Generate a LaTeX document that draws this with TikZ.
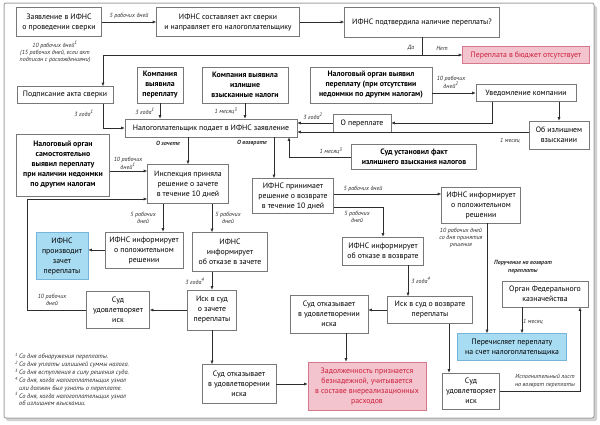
\documentclass[tikz,border=0pt]{standalone}
\usepackage{fontspec}
\setmainfont{PT Sans}
\definecolor{boxline}{RGB}{120,120,120}
\definecolor{flowline}{RGB}{45,45,45}
\definecolor{pinkfill}{RGB}{243,196,205}
\definecolor{pinkline}{RGB}{214,120,140}
\definecolor{pinktext}{RGB}{204,30,60}
\definecolor{bluefill}{RGB}{168,220,243}
\definecolor{blueline}{RGB}{120,180,215}
\definecolor{framegray}{RGB}{165,165,165}
\usetikzlibrary{arrows.meta,positioning}

\begin{document}
\begin{tikzpicture}[x=1pt,y=-1pt,
  flowbox/.style={draw=boxline,fill=white,line width=0.6pt,align=center,inner sep=2pt,
    font=\fontsize{7.8}{10}\selectfont},
  boldbox/.style={flowbox,font=\fontsize{7.8}{10}\selectfont\bfseries},
  pinkbox/.style={flowbox,fill=pinkfill,draw=pinkline,text=pinktext},
  bluebox/.style={flowbox,fill=bluefill,draw=blueline},
  flow/.style={draw=flowline,line width=0.6pt,-{Latex[length=3.5pt,width=3pt]}},
  note/.style={font=\fontsize{6}{7.2}\selectfont\itshape,text=flowline,align=center,inner sep=0pt},
  bnote/.style={note,font=\fontsize{6}{7.2}\selectfont\itshape\bfseries}
]
  \useasboundingbox (0,0) rectangle (600,424);
  \fill[gray!35,rounded corners=2pt] (6,6) rectangle (597,421);
  \draw[framegray,fill=white,line width=1pt,rounded corners=2pt] (4,3) rectangle (594,418);

  \node[flowbox,minimum width=85pt,minimum height=29pt] (zayav) at (59,22) {Заявление в ИФНС\\о проведении сверки};
  \node[flowbox,minimum width=143pt,minimum height=29pt] (akt) at (228,22) {ИФНС составляет акт сверки\\и направляет его налогоплательщику};
  \node[flowbox,minimum width=155pt,minimum height=30pt] (podtv) at (422,22) {ИФНС подтвердила наличие переплаты?};
  \node[pinkbox,minimum width=127pt,minimum height=17pt] (net) at (526,55) {Переплата в бюджет отсутствует};
  \node[flowbox,minimum width=96pt,minimum height=17pt] (podpis) at (65,95) {Подписание акта сверки};
  \node[boldbox,minimum width=46pt,minimum height=36pt] (komp1) at (160,85) {Компания\\выявила\\переплату};
  \node[boldbox,minimum width=86pt,minimum height=36pt] (komp2) at (245,85) {Компания выявила\\излишне\\взысканные налоги};
  \node[boldbox,minimum width=122pt,minimum height=36pt] (organ1) at (371,85) {Налоговый орган выявил\\переплату (при отсутствии\\недоимки по другим налогам)};
  \node[flowbox,minimum width=100pt,minimum height=17pt] (uved) at (526,93) {Уведомление компании};
  \node[flowbox,minimum width=172pt,minimum height=18pt] (nalog) at (211,128) {Налогоплательщик подает в ИФНС заявление};
  \node[flowbox,minimum width=58pt,minimum height=18pt] (opere) at (362,123) {О переплате};
  \node[flowbox,minimum width=60pt,minimum height=28pt] (izl) at (559,135) {Об излишнем\\взыскании};
  \node[boldbox,minimum width=125pt,minimum height=25pt] (sud1) at (414,157) {Суд установил факт\\излишнего взыскания налогов};
  \node[boldbox,minimum width=93pt,minimum height=62pt] (organ2) at (63,165) {Налоговый орган\\самостоятельно\\выявил переплату\\при наличии недоимки\\по другим налогам};
  \node[flowbox,minimum width=81pt,minimum height=39pt] (insp) at (188,184) {Инспекция приняла\\решение о зачете\\в течение 10 дней};
  \node[flowbox,minimum width=81pt,minimum height=35pt] (vozv) at (293,196) {ИФНС принимает\\решение о возврате\\в течение 10 дней};
  \node[flowbox,minimum width=79pt,minimum height=36pt] (polozh2) at (481,205) {ИФНС информирует\\о положительном\\решении};
  \node[flowbox,minimum width=81pt,minimum height=28pt] (otkaz2) at (383,251) {ИФНС информирует\\об отказе в возврате};
  \node[flowbox,minimum width=78pt,minimum height=36pt] (polozh1) at (144,250) {ИФНС информирует\\о положительном\\решении};
  \node[flowbox,minimum width=75pt,minimum height=39pt] (otkaz1) at (230,252) {ИФНС\\информирует\\об отказе в зачете};
  \node[bluebox,minimum width=52pt,minimum height=47pt] (proizv) at (62,256) {ИФНС\\производит\\зачет\\переплаты};
  \node[flowbox,minimum width=49pt,minimum height=40pt] (isk1) at (212,310) {Иск в суд\\о зачете\\переплаты};
  \node[flowbox,minimum width=63pt,minimum height=37pt] (sudud1) at (118,310) {Суд\\удовлетворяет\\иск};
  \node[flowbox,minimum width=74pt,minimum height=39pt] (sudotk1) at (239,384) {Суд отказывает\\в удовлетворении\\иска};
  \node[pinkbox,minimum width=118pt,minimum height=48pt] (zadolzh) at (367,386) {Задолженность признается\\безнадежной, учитывается\\в составе внереализационных\\расходов};
  \node[flowbox,minimum width=85pt,minimum height=27pt] (isk2) at (430,310) {Иск в суд о возврате\\переплаты};
  \node[flowbox,minimum width=78pt,minimum height=38pt] (sudotk2) at (329,314) {Суд отказывает\\в удовлетворении\\иска};
  \node[flowbox,minimum width=57pt,minimum height=36pt] (sudud2) at (471,391) {Суд\\удовлетворяет\\иск};
  \node[flowbox,minimum width=86pt,minimum height=26pt] (fed) at (545,294) {Орган Федерального\\казначейства};
  \node[bluebox,minimum width=109pt,minimum height=27pt] (perech) at (512,347) {Перечисляет переплату\\на счет налогоплательщика};

  \coordinate (yesbend) at (103,0);
  \coordinate (uvl) at (492,0);
  \coordinate (uvr) at (559,0);
  \coordinate (loopc) at (27,199);
  \coordinate (listc) at (580,0);

  \draw[flow] (zayav) -- node[note,above=3pt]{5 рабочих дней} (akt);
  \draw[flow] (akt) -- (podtv);
  \draw[flow] (podtv.south) |- (net.west);
  \draw[flow] (podtv.south |- net.west) -| (podpis.north -| yesbend);
  \node[note] at (411,48) {Да};
  \node[note] at (442,48) {Нет};
  \node[note] at (55,52) {10 рабочих дней\textsuperscript{1}\\(15 рабочих дней, если акт\\подписан с расхождениями)};
  \draw[flow] (podpis.south -| yesbend) |- (nalog.west);
  \node[note] at (84,113) {3 года\textsuperscript{1}};
  \draw[flow] (komp1.south) -- (komp1.south |- nalog.north);
  \node[note] at (145,111) {3 года\textsuperscript{1}};
  \draw[flow] (komp2.south) -- (komp2.south |- nalog.north);
  \node[note] at (226,111) {1 месяц\textsuperscript{3}};
  \draw[flow] (organ1.east |- uved.west) -- (uved.west);
  \node[note] at (451,82) {10 рабочих\\дней\textsuperscript{2}};
  \draw[flow] (uved.south -| uvl) |- (opere.east);
  \draw[flow] (uved.south -| uvr) -- (izl.north -| uvr);
  \draw[flow] (opere.west) -- (nalog.east |- opere.west);
  \node[note] at (313,116) {3 года\textsuperscript{2}};
  \draw[flow] (izl.west |- 0,132) -- (nalog.east |- 0,132);
  \node[note] at (510,141) {1 месяц};
  \draw[flow] (sud1.west) -| (nalog.south -| 289,0);
  \node[note] at (331,151) {1 месяц\textsuperscript{3}};

  \draw[flow] (nalog.south -| insp.north) -- (insp.north);
  \node[bnote] at (168,143) {О зачете};
  \draw[flow] (nalog.south -| 274,0) -- (vozv.north -| 274,0);
  \node[bnote] at (252,143) {О возврате};
  \draw[flow] (organ2.east |- 0,171) -- (insp.west |- 0,171);
  \node[note] at (128,163) {10 рабочих\\дней\textsuperscript{1}};
  \draw[flow] (sudud1.west) -| (loopc) -- (insp.west |- loopc);
  \node[note] at (52,300) {10 рабочих\\дней};
  \draw[flow] (insp.south -| 163,0) -- (polozh1.north -| 163,0);
  \node[note] at (143,218) {5 рабочих\\дней};
  \draw[flow] (insp.south -| isk1.north) -- (otkaz1.north -| isk1.north);
  \node[note] at (228,218) {5 рабочих\\дней};
  \draw[flow] (polozh1.west) -- (proizv.east |- polozh1.west);
  \draw[flow] (otkaz1.south -| isk1.north) -- (isk1.north);
  \node[note] at (195,281) {3 года\textsuperscript{4}};
  \draw[flow] (isk1.west) -- (sudud1.east);
  \draw[flow] (isk1.south) -- (isk1.south |- sudotk1.north);
  \draw[flow] (sudotk1.east) -- (zadolzh.west |- sudotk1.east);

  \draw[flow] (vozv.east |- 0,194) -- (polozh2.west |- 0,194);
  \node[note] at (363,189) {5 рабочих дней};
  \draw[flow] (vozv.east |- 0,207) -| (otkaz2.north);
  \node[note] at (357,217) {5 рабочих\\дней};
  \draw[flow] (otkaz2.south -| 408,0) -- (isk2.north -| 408,0);
  \node[note] at (421,280) {3 года\textsuperscript{4}};
  \draw[flow] (isk2.west) -- (sudotk2.east |- isk2.west);
  \draw[flow] (sudotk2.south -| 346,0) -- (zadolzh.north -| 346,0);
  \draw[flow] (isk2.south -| 449,0) -- (sudud2.north -| 449,0);
  \draw[flow] (sudud2.east) -| (fed.south -| listc);
  \node[note] at (545,381) {Исполнительный лист\\на возврат переплаты};
  \draw[flow] (polozh2.south -| 487,0) -- (perech.north -| 487,0);
  \node[note] at (461,238) {10 рабочих дней\\со дня принятия\\решения};
  \node[bnote] at (523,267) {Поручение на возврат\\переплаты};
  \draw[flow] (fed.south -| 522,0) -- (perech.north -| 522,0);
  \node[note] at (533,322) {1 месяц};

  \node[note,anchor=north west,align=left,font=\fontsize{6.4}{7.6}\selectfont\itshape] (fnotes) at (15,353) {\begin{tabular}{@{}r@{\,}l@{}}
    \textsuperscript{1} & Со дня обнаружения переплаты.\\
    \textsuperscript{2} & Со дня уплаты излишней суммы налога.\\
    \textsuperscript{3} & Со дня вступления в силу решения суда.\\
    \textsuperscript{4} & Со дня, когда налогоплательщик узнал\\
     & или должен был узнать о переплате.\\
    \textsuperscript{5} & Со дня, когда налогоплательщик узнал\\
     & об излишнем взыскании.
  \end{tabular}};
\end{tikzpicture}
\end{document}
